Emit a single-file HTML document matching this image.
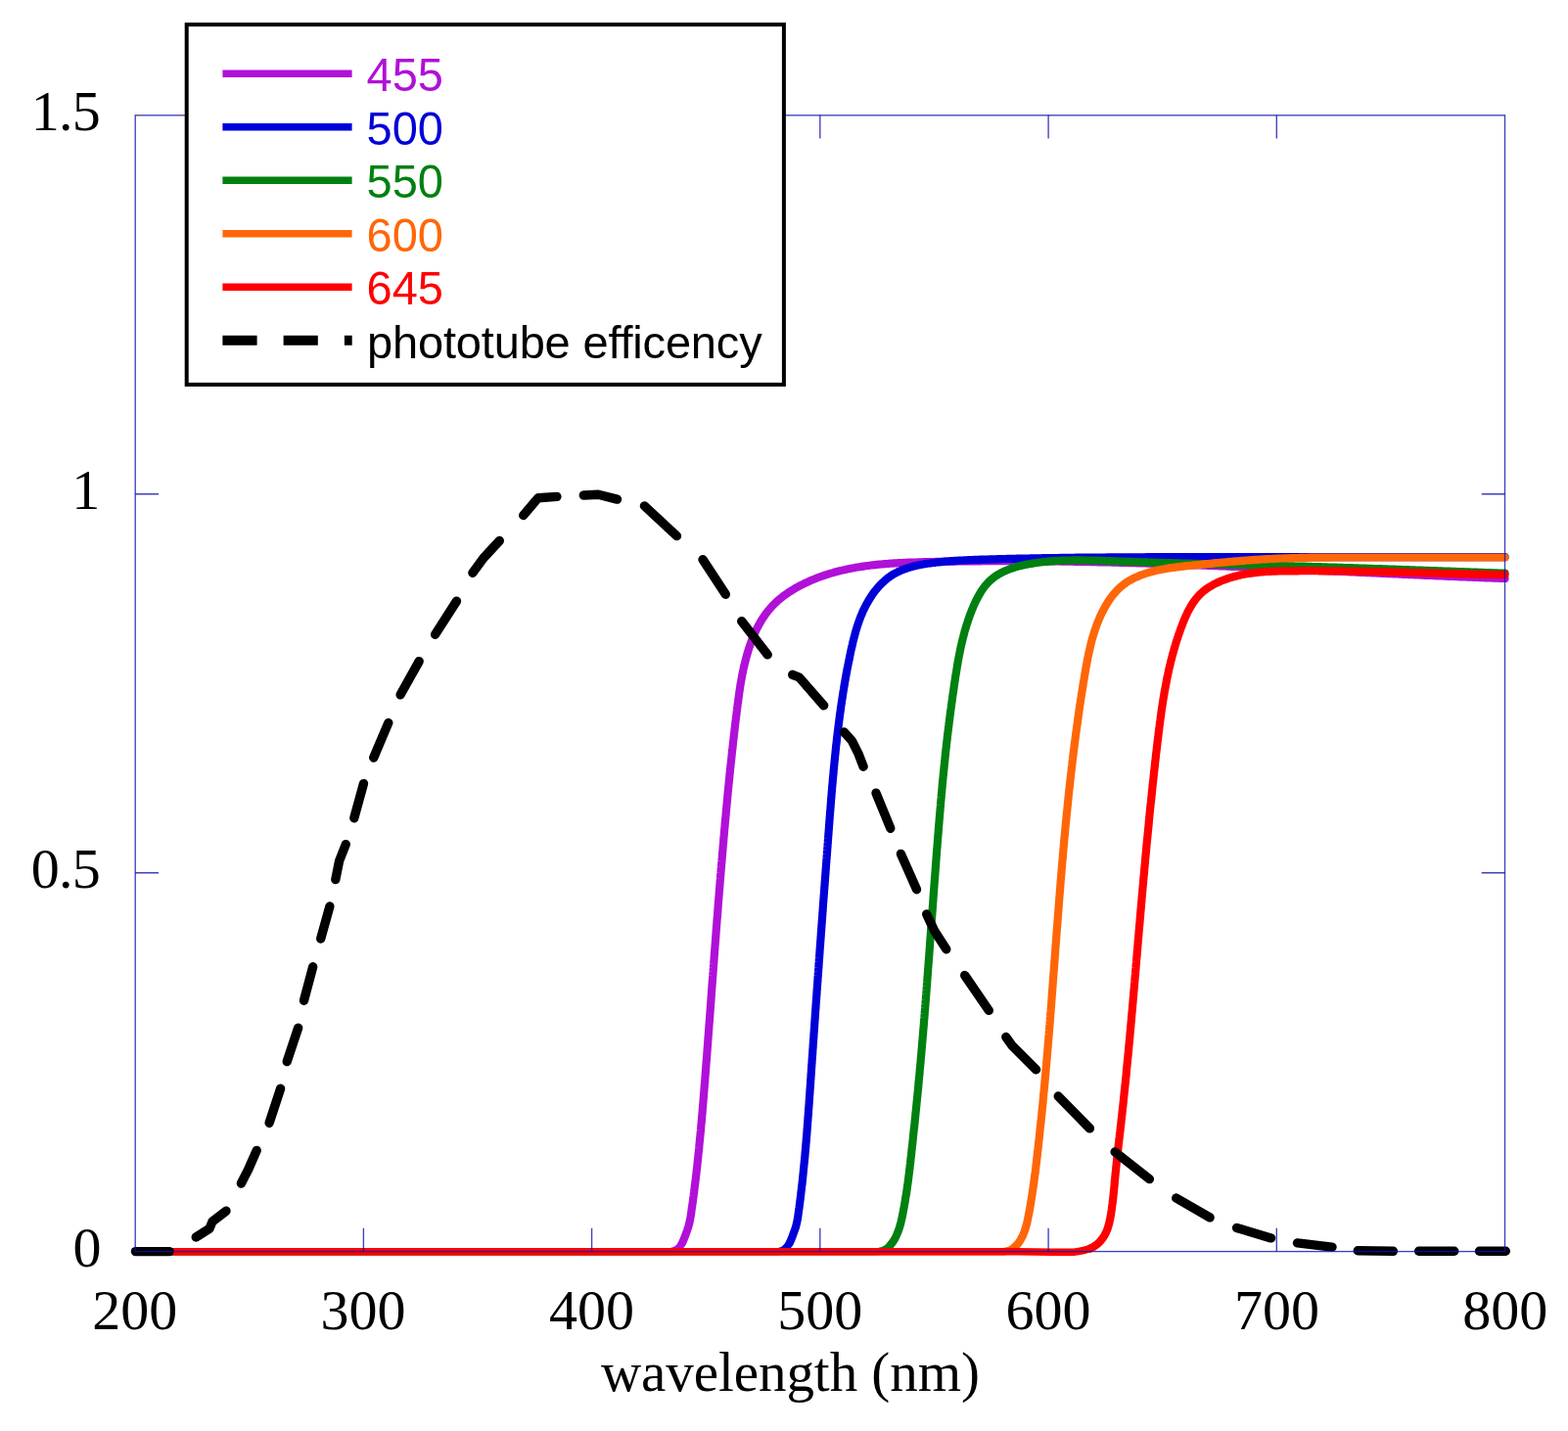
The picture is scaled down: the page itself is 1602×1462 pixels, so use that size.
<!DOCTYPE html>
<html lang="en"><head><meta charset="utf-8"><title>Filter transmission and phototube efficiency</title>
<style>
html,body{margin:0;padding:0;background:#fff;}
body{width:1602px;height:1462px;overflow:hidden;}
svg{display:block;}
.tick{font-family:"Liberation Serif","DejaVu Serif",serif;font-size:58px;fill:#000;}
.leg{font-family:"Liberation Sans","DejaVu Sans",sans-serif;font-size:47px;}
.c{fill:none;stroke-linecap:round;stroke-linejoin:round;}
.d{fill:none;stroke:#000;stroke-width:9.4;stroke-linecap:round;stroke-linejoin:round;}
.ax{fill:none;stroke:#1010aa;stroke-width:1.35;stroke-opacity:0.8;}
</style></head><body>
<svg width="1602" height="1462" viewBox="0 0 1602 1462">
<rect x="0" y="0" width="1602" height="1462" fill="#fff"/>

<g id="traces">
<path class="c" stroke-width="7.6" stroke="#B010D8" d="M138.5 1278.7 L684.0 1278.7 L686.2 1278.5 L688.2 1278.0 L690.0 1277.2 L691.7 1276.2 L693.2 1275.0 L694.5 1273.7 L695.6 1272.1 L696.7 1270.5"/>
<path class="c" stroke-width="8.2" stroke="#B010D8" d="M696.7 1270.5 L697.6 1268.7 L698.4 1266.9 L699.1 1265.0 L699.9 1263.1 L700.6 1261.2 L701.3 1259.2 L702.0 1257.3 L702.6 1255.4 L703.3 1253.4 L703.8 1251.5 L704.3 1249.6 L704.7 1247.6 L705.1 1245.6 L705.5 1243.7 L705.8 1241.7 L706.1 1239.7 L706.4 1237.8 L706.6 1235.8 L706.9 1233.8 L707.2 1231.9 L707.5 1229.9 L707.8 1227.9 L708.0 1225.9 L708.3 1224.0 L708.6 1222.0 L708.8 1220.0 L709.1 1218.0 L709.3 1216.0 L709.6 1214.1 L709.8 1212.1 L710.1 1210.1 L710.3 1208.1 L710.6 1206.1 L710.8 1204.1 L711.0 1202.2 L711.3 1200.2 L711.5 1198.2 L711.7 1196.2 L711.9 1194.2 L712.2 1192.2 L712.4 1190.2 L712.6 1188.2 L712.8 1186.2 L713.0 1184.3 L713.2 1182.3 L713.4 1180.3 L713.6 1178.3 L713.9 1176.3 L714.1 1174.3 L714.3 1172.3 L714.4 1170.3 L714.6 1168.3 L714.8 1166.3 L715.0 1164.3 L715.2 1162.3 L715.4 1160.3 L715.6 1158.3 L715.8 1156.3 L716.0 1154.3 L716.1 1152.3 L716.3 1150.3 L716.5 1148.4 L716.7 1146.4 L716.9 1144.4 L717.0 1142.4 L717.2 1140.4 L717.4 1138.4 L717.6 1136.4 L717.7 1134.4 L717.9 1132.4 L718.1 1130.4 L718.2 1128.4 L718.4 1126.4 L718.6 1124.4 L718.7 1122.4 L718.9 1120.4 L719.0 1118.4 L719.2 1116.4 L719.4 1114.4 L719.5 1112.4 L719.7 1110.4 L719.8 1108.4 L720.0 1106.4 L720.2 1104.4 L720.3 1102.4 L720.5 1100.4 L720.6 1098.4 L720.8 1096.4 L720.9 1094.4 L721.1 1092.4 L721.2 1090.4 L721.4 1088.4 L721.5 1086.4 L721.7 1084.4 L721.9 1082.4 L722.0 1080.4 L722.2 1078.4 L722.3 1076.4 L722.5 1074.5 L722.6 1072.5 L722.8 1070.5 L722.9 1068.5 L723.1 1066.5 L723.2 1064.5 L723.4 1062.5 L723.5 1060.5 L723.7 1058.5 L723.8 1056.5 L724.0 1054.5 L724.1 1052.5 L724.3 1050.5 L724.4 1048.5 L724.6 1046.5 L724.7 1044.6 L724.9 1042.6 L725.0 1040.6 L725.2 1038.6 L725.3 1036.6 L725.5 1034.6 L725.6 1032.6 L725.8 1030.6 L725.9 1028.6 L726.1 1026.6 L726.2 1024.6 L726.4 1022.7 L726.5 1020.7 L726.7 1018.7 L726.8 1016.7 L726.9 1014.7 L727.1 1012.7 L727.2 1010.7 L727.4 1008.7 L727.5 1006.7 L727.7 1004.7 L727.8 1002.7 L728.0 1000.8 L728.1 998.8 L728.3 996.8 L728.4 994.8 L728.6 992.8 L728.7 990.8 L728.9 988.8 L729.0 986.8 L729.2 984.8 L729.3 982.9 L729.5 980.9 L729.6 978.9 L729.8 976.9 L729.9 974.9 L730.1 972.9 L730.2 970.9 L730.4 968.9 L730.5 966.9 L730.7 964.9 L730.8 963.0 L731.0 961.0 L731.1 959.0 L731.3 957.0 L731.4 955.0 L731.6 953.0 L731.7 951.0 L731.9 949.0 L732.0 947.0 L732.2 945.1 L732.3 943.1 L732.5 941.1 L732.6 939.1 L732.8 937.1 L733.0 935.1 L733.1 933.1 L733.3 931.1 L733.4 929.1 L733.6 927.1 L733.7 925.2 L733.9 923.2 L734.0 921.2 L734.2 919.2 L734.4 917.2 L734.5 915.2 L734.7 913.2 L734.8 911.2 L735.0 909.2 L735.2 907.2 L735.3 905.2 L735.5 903.3 L735.6 901.3 L735.8 899.3 L736.0 897.3 L736.1 895.3 L736.3 893.3 L736.5 891.3 L736.6 889.3 L736.8 887.3 L737.0 885.3 L737.1 883.3 L737.3 881.3 L737.5 879.3 L737.6 877.4 L737.8 875.4 L738.0 873.4 L738.1 871.4 L738.3 869.4 L738.5 867.4 L738.6 865.4 L738.8 863.4 L739.0 861.4 L739.2 859.4 L739.3 857.4 L739.5 855.4 L739.7 853.4 L739.9 851.4 L740.0 849.4 L740.2 847.4 L740.4 845.4 L740.6 843.4 L740.7 841.5 L740.9 839.5 L741.1 837.5 L741.3 835.5 L741.5 833.5 L741.7 831.5 L741.8 829.5 L742.0 827.5 L742.2 825.5 L742.4 823.5 L742.6 821.5 L742.8 819.5 L743.0 817.5 L743.2 815.5 L743.3 813.5 L743.5 811.5 L743.7 809.5 L743.9 807.5 L744.1 805.5 L744.3 803.5 L744.5 801.5 L744.7 799.5 L744.9 797.5 L745.1 795.5 L745.3 793.5 L745.5 791.5 L745.7 789.5 L745.9 787.6 L746.1 785.6 L746.3 783.6 L746.5 781.6 L746.8 779.6 L747.0 777.6 L747.2 775.6 L747.4 773.6 L747.6 771.6 L747.8 769.6 L748.0 767.6 L748.3 765.6 L748.5 763.7 L748.7 761.7 L748.9 759.7 L749.1 757.7 L749.4 755.7 L749.6 753.7 L749.8 751.7 L750.0 749.8 L750.3 747.8 L750.5 745.8 L750.7 743.8 L751.0 741.8 L751.2 739.8 L751.4 737.9 L751.7 735.9 L751.9 733.9 L752.2 731.9 L752.4 730.0 L752.6 728.0 L752.9 726.0 L753.1 724.0 L753.4 722.1 L753.6 720.1 L753.9 718.1 L754.2 716.1 L754.4 714.2 L754.7 712.2 L755.0 710.2 L755.2 708.3 L755.5 706.3 L755.8 704.3 L756.1 702.4 L756.4 700.4 L756.7 698.4 L757.1 696.5 L757.4 694.5 L757.8 692.6 L758.1 690.6 L758.5 688.7 L758.9 686.7 L759.3 684.7 L759.7 682.8 L760.2 680.8 L760.6 678.9 L761.1 676.9 L761.6 675.0 L762.1 673.0 L762.6 671.1 L763.1 669.2 L763.7 667.2 L764.3 665.3 L764.9 663.3 L765.5 661.4 L766.2 659.5 L766.8 657.6 L767.5 655.7 L768.2 653.8 L769.0 651.9 L769.7 650.0 L770.5 648.2 L771.4 646.3 L772.2 644.5 L773.1 642.7 L774.0 640.9 L774.9 639.1 L775.9 637.4 L776.9 635.6 L777.9 633.9 L778.9 632.2 L780.0 630.6 L781.2 628.9 L782.3 627.3 L783.5 625.7 L784.7 624.1 L786.0 622.6 L787.3 621.1 L788.6 619.6 L790.0 618.2 L791.4 616.8 L792.8 615.4 L794.3 614.0 L795.8 612.7 L797.4 611.4 L798.9 610.2 L800.5 608.9 L802.1 607.7 L803.8 606.6 L805.5 605.4 L807.2 604.3 L808.9 603.2 L810.6 602.2 L812.4 601.1 L814.1 600.1 L815.9 599.2 L817.7 598.2 L819.5 597.3 L821.3 596.4 L823.1 595.5 L825.0 594.7 L826.8 593.8 L828.6 593.0 L830.5 592.2 L832.3 591.5 L834.2 590.7 L836.1 590.0 L837.9 589.3 L839.8 588.7 L841.7 588.0 L843.6 587.4 L845.4 586.8 L847.3 586.2 L849.2 585.6 L851.1 585.1 L853.0 584.5 L854.9 584.0 L856.9 583.5 L858.8 583.1 L860.7 582.6 L862.6 582.2 L864.6 581.7 L866.5 581.3 L868.4 580.9 L870.4 580.5 L872.3 580.2 L874.3 579.8 L876.2 579.5 L878.2 579.2 L880.1 578.9 L882.1 578.6 L884.1 578.3 L886.0 578.0 L888.0 577.8 L890.0 577.5 L891.9 577.3 L893.9 577.1 L895.9 576.9 L897.9 576.7 L899.9 576.5 L901.9 576.3 L903.8 576.1 L905.8 576.0 L907.8 575.8 L909.8 575.7 L911.8 575.6 L913.8 575.4 L915.8 575.3 L917.8 575.2 L919.8 575.1 L921.8 575.0 L923.8 574.9 L925.8 574.8 L927.8 574.7 L929.8 574.7 L931.8 574.6 L933.8 574.5 L935.9 574.5 L937.9 574.4 L939.9 574.3 L941.9 574.3 L943.9 574.2 L945.9 574.2 L947.9 574.1 L949.9 574.1 L951.9 574.0 L953.9 574.0 L955.9 573.9 L958.0 573.9 L960.0 573.8 L962.0 573.8 L964.0 573.8 L966.0 573.7 L968.0 573.7 L970.0 573.7 L972.0 573.6 L974.0 573.6 L976.0 573.6 L978.0 573.5 L980.0 573.5 L982.0 573.5 L984.0 573.4 L986.0 573.4 L988.1 573.4 L990.1 573.4 L992.1 573.3 L994.1 573.3 L996.1 573.3 L998.1 573.3 L1000.1 573.3 L1002.1 573.3 L1004.1 573.2 L1006.1 573.2 L1008.1 573.2 L1010.1 573.2 L1012.1 573.2 L1014.1 573.2 L1016.1 573.2 L1018.1 573.2 L1020.1 573.2 L1022.1 573.2 L1024.1 573.2 L1026.1 573.2 L1028.1 573.2 L1030.1 573.2 L1032.2 573.2 L1034.2 573.2 L1036.2 573.2 L1038.2 573.2 L1040.2 573.2 L1042.2 573.2 L1044.2 573.2 L1046.2 573.2 L1048.2 573.2 L1050.2 573.2 L1052.2 573.2 L1054.2 573.2 L1056.2 573.3 L1058.2 573.3 L1060.2 573.3 L1062.2 573.3 L1064.2 573.3 L1066.2 573.3 L1068.2 573.4 L1070.2 573.4 L1072.2 573.4 L1074.2 573.4 L1076.2 573.5 L1078.2 573.5 L1080.2 573.5 L1082.2 573.5 L1084.2 573.6 L1086.2 573.6 L1088.2 573.6 L1090.2 573.6 L1092.2 573.7 L1094.2 573.7 L1096.2 573.7 L1098.2 573.8 L1100.2 573.8 L1102.2 573.9 L1104.2 573.9 L1106.2 573.9 L1108.2 574.0 L1110.2 574.0 L1112.2 574.0 L1114.2 574.1 L1116.2 574.1 L1118.2 574.2 L1120.2 574.2 L1122.2 574.3 L1124.2 574.3 L1126.2 574.3 L1128.2 574.4 L1130.2 574.4 L1132.2 574.5 L1134.2 574.5 L1136.2 574.6 L1138.2 574.6 L1140.2 574.7 L1142.2 574.7 L1144.2 574.8 L1146.2 574.8 L1148.2 574.9 L1150.2 575.0 L1152.2 575.0 L1154.2 575.1 L1156.2 575.1 L1158.2 575.2 L1160.2 575.2 L1162.2 575.3 L1164.2 575.4 L1166.2 575.4 L1168.2 575.5 L1170.1 575.5 L1172.1 575.6 L1174.1 575.7 L1176.1 575.7 L1178.1 575.8 L1180.1 575.9 L1182.1 575.9 L1184.1 576.0 L1186.1 576.1 L1188.1 576.1 L1190.1 576.2 L1192.1 576.3 L1194.1 576.3 L1196.1 576.4 L1198.1 576.5 L1200.1 576.5 L1202.1 576.6 L1204.1 576.7 L1206.1 576.7 L1208.1 576.8 L1210.1 576.9 L1212.1 577.0 L1214.1 577.0 L1216.1 577.1 L1218.1 577.2 L1220.1 577.3 L1222.1 577.3 L1224.1 577.4 L1226.1 577.5 L1228.1 577.6 L1230.0 577.7 L1232.0 577.7 L1234.0 577.8 L1236.0 577.9 L1238.0 578.0 L1240.0 578.0 L1242.0 578.1 L1244.0 578.2 L1246.0 578.3 L1248.0 578.4 L1250.0 578.5 L1252.0 578.5 L1254.0 578.6 L1256.0 578.7 L1258.0 578.8 L1260.0 578.9 L1262.0 579.0 L1264.0 579.0 L1266.0 579.1 L1268.0 579.2 L1270.0 579.3 L1272.0 579.4 L1274.0 579.5 L1276.0 579.6 L1278.0 579.6 L1279.9 579.7 L1281.9 579.8 L1283.9 579.9 L1285.9 580.0 L1287.9 580.1 L1289.9 580.2 L1291.9 580.3 L1293.9 580.3 L1295.9 580.4 L1297.9 580.5 L1299.9 580.6 L1301.9 580.7 L1303.9 580.8 L1305.9 580.9 L1307.9 581.0 L1309.9 581.1 L1311.9 581.2 L1313.9 581.2 L1315.9 581.3 L1317.9 581.4 L1319.9 581.5 L1321.9 581.6 L1323.9 581.7 L1325.9 581.8 L1327.8 581.9 L1329.8 582.0 L1331.8 582.1 L1333.8 582.2 L1335.8 582.3 L1337.8 582.4 L1339.8 582.4 L1341.8 582.5 L1343.8 582.6 L1345.8 582.7 L1347.8 582.8 L1349.8 582.9 L1351.8 583.0 L1353.8 583.1 L1355.8 583.2 L1357.8 583.3 L1359.8 583.4 L1361.8 583.5 L1363.8 583.6 L1365.8 583.7 L1367.8 583.7 L1369.8 583.8 L1371.8 583.9 L1373.8 584.0 L1375.8 584.1 L1377.8 584.2 L1379.8 584.3 L1381.8 584.4 L1383.7 584.5 L1385.7 584.6 L1387.7 584.7 L1389.7 584.8 L1391.7 584.9 L1393.7 585.0 L1395.7 585.1 L1397.7 585.1 L1399.7 585.2 L1401.7 585.3 L1403.7 585.4 L1405.7 585.5 L1407.7 585.6 L1409.7 585.7 L1411.7 585.8 L1413.7 585.9 L1415.7 586.0 L1417.7 586.1 L1419.7 586.2 L1421.7 586.2 L1423.7 586.3 L1425.7 586.4 L1427.7 586.5 L1429.7 586.6 L1431.7 586.7 L1433.7 586.8 L1435.7 586.9 L1437.7 587.0 L1439.7 587.1 L1441.7 587.1 L1443.7 587.2 L1445.7 587.3 L1447.7 587.4 L1449.7 587.5 L1451.7 587.6 L1453.7 587.7 L1455.7 587.8 L1457.7 587.8 L1459.7 587.9 L1461.7 588.0 L1463.7 588.1 L1465.7 588.2 L1467.7 588.3 L1469.7 588.4 L1471.7 588.4 L1473.7 588.5 L1475.7 588.6 L1477.7 588.7 L1479.7 588.8 L1481.7 588.9 L1483.7 588.9 L1485.7 589.0 L1487.7 589.1 L1489.7 589.2 L1491.7 589.3 L1493.7 589.4 L1495.7 589.4 L1497.7 589.5 L1499.7 589.6 L1501.7 589.7 L1503.7 589.7 L1505.7 589.8 L1507.7 589.9 L1509.7 590.0 L1511.7 590.1 L1513.7 590.1 L1515.7 590.2 L1517.7 590.3 L1519.7 590.4 L1521.7 590.4 L1523.7 590.5 L1525.7 590.6 L1527.7 590.7 L1529.7 590.7 L1531.7 590.8 L1533.7 590.9 L1535.7 590.9 L1537.5 591.0"/>
<path class="c" stroke-width="7.6" stroke="#0000D8" d="M138.5 1278.7 L794.0 1278.7 L796.2 1278.4 L798.2 1277.9 L800.0 1277.1 L801.6 1276.1 L803.0 1274.8 L804.3 1273.4 L805.5 1271.9 L806.5 1270.3"/>
<path class="c" stroke-width="8.2" stroke="#0000D8" d="M806.5 1270.3 L807.4 1268.5 L808.2 1266.7 L809.0 1264.8 L809.7 1262.9 L810.4 1261.0 L811.1 1259.0 L811.8 1257.1 L812.5 1255.2 L813.1 1253.2 L813.6 1251.3 L814.1 1249.3 L814.5 1247.3 L814.9 1245.4 L815.2 1243.4 L815.5 1241.4 L815.7 1239.5 L816.0 1237.5 L816.3 1235.5 L816.6 1233.5 L816.8 1231.6 L817.1 1229.6 L817.3 1227.6 L817.6 1225.6 L817.8 1223.6 L818.1 1221.7 L818.3 1219.7 L818.5 1217.7 L818.8 1215.7 L819.0 1213.7 L819.2 1211.7 L819.5 1209.8 L819.7 1207.8 L819.9 1205.8 L820.1 1203.8 L820.3 1201.8 L820.5 1199.8 L820.7 1197.8 L820.9 1195.8 L821.1 1193.9 L821.3 1191.9 L821.5 1189.9 L821.7 1187.9 L821.9 1185.9 L822.1 1183.9 L822.3 1181.9 L822.5 1179.9 L822.6 1177.9 L822.8 1175.9 L823.0 1173.9 L823.2 1171.9 L823.3 1169.9 L823.5 1168.0 L823.7 1166.0 L823.8 1164.0 L824.0 1162.0 L824.2 1160.0 L824.3 1158.0 L824.5 1156.0 L824.6 1154.0 L824.8 1152.0 L824.9 1150.0 L825.1 1148.0 L825.2 1146.0 L825.4 1144.0 L825.5 1142.0 L825.7 1140.0 L825.8 1138.0 L826.0 1136.0 L826.1 1134.0 L826.3 1132.0 L826.4 1130.0 L826.6 1128.0 L826.7 1126.0 L826.8 1124.0 L827.0 1122.0 L827.1 1120.0 L827.3 1118.0 L827.4 1116.0 L827.5 1114.0 L827.7 1112.0 L827.8 1110.0 L828.0 1108.0 L828.1 1106.0 L828.2 1104.0 L828.4 1102.0 L828.5 1100.0 L828.6 1098.0 L828.8 1096.0 L828.9 1094.0 L829.0 1092.0 L829.2 1090.0 L829.3 1088.0 L829.5 1086.0 L829.6 1084.0 L829.7 1082.0 L829.9 1080.0 L830.0 1078.0 L830.2 1076.0 L830.3 1074.0 L830.4 1072.1 L830.6 1070.1 L830.7 1068.1 L830.8 1066.1 L831.0 1064.1 L831.1 1062.1 L831.3 1060.1 L831.4 1058.1 L831.5 1056.1 L831.7 1054.1 L831.8 1052.1 L832.0 1050.1 L832.1 1048.1 L832.2 1046.1 L832.4 1044.1 L832.5 1042.1 L832.7 1040.1 L832.8 1038.1 L832.9 1036.1 L833.1 1034.1 L833.2 1032.2 L833.4 1030.2 L833.5 1028.2 L833.6 1026.2 L833.8 1024.2 L833.9 1022.2 L834.1 1020.2 L834.2 1018.2 L834.4 1016.2 L834.5 1014.2 L834.6 1012.2 L834.8 1010.2 L834.9 1008.2 L835.1 1006.2 L835.2 1004.2 L835.4 1002.3 L835.5 1000.3 L835.6 998.3 L835.8 996.3 L835.9 994.3 L836.1 992.3 L836.2 990.3 L836.4 988.3 L836.5 986.3 L836.6 984.3 L836.8 982.3 L836.9 980.3 L837.1 978.3 L837.2 976.4 L837.4 974.4 L837.5 972.4 L837.6 970.4 L837.8 968.4 L837.9 966.4 L838.1 964.4 L838.2 962.4 L838.4 960.4 L838.5 958.4 L838.7 956.4 L838.8 954.4 L838.9 952.5 L839.1 950.5 L839.2 948.5 L839.4 946.5 L839.5 944.5 L839.7 942.5 L839.8 940.5 L840.0 938.5 L840.1 936.5 L840.3 934.5 L840.4 932.5 L840.6 930.5 L840.7 928.6 L840.8 926.6 L841.0 924.6 L841.1 922.6 L841.3 920.6 L841.4 918.6 L841.6 916.6 L841.7 914.6 L841.9 912.6 L842.0 910.6 L842.2 908.6 L842.3 906.6 L842.5 904.7 L842.6 902.7 L842.8 900.7 L842.9 898.7 L843.1 896.7 L843.2 894.7 L843.4 892.7 L843.5 890.7 L843.7 888.7 L843.8 886.7 L844.0 884.7 L844.1 882.7 L844.3 880.7 L844.4 878.8 L844.6 876.8 L844.7 874.8 L844.9 872.8 L845.0 870.8 L845.2 868.8 L845.3 866.8 L845.5 864.8 L845.6 862.8 L845.8 860.8 L845.9 858.8 L846.1 856.8 L846.2 854.8 L846.4 852.9 L846.5 850.9 L846.7 848.9 L846.8 846.9 L847.0 844.9 L847.1 842.9 L847.3 840.9 L847.4 838.9 L847.6 836.9 L847.7 834.9 L847.9 832.9 L848.0 830.9 L848.2 828.9 L848.4 826.9 L848.5 824.9 L848.7 822.9 L848.8 821.0 L849.0 819.0 L849.1 817.0 L849.3 815.0 L849.5 813.0 L849.6 811.0 L849.8 809.0 L850.0 807.0 L850.1 805.0 L850.3 803.0 L850.5 801.0 L850.7 799.0 L850.8 797.0 L851.0 795.0 L851.2 793.0 L851.4 791.1 L851.6 789.1 L851.7 787.1 L851.9 785.1 L852.1 783.1 L852.3 781.1 L852.5 779.1 L852.7 777.1 L852.9 775.1 L853.1 773.1 L853.3 771.1 L853.5 769.2 L853.7 767.2 L853.9 765.2 L854.1 763.2 L854.3 761.2 L854.6 759.2 L854.8 757.2 L855.0 755.2 L855.2 753.2 L855.5 751.3 L855.7 749.3 L855.9 747.3 L856.2 745.3 L856.4 743.3 L856.7 741.3 L856.9 739.3 L857.2 737.4 L857.4 735.4 L857.7 733.4 L857.9 731.4 L858.2 729.4 L858.5 727.4 L858.8 725.5 L859.0 723.5 L859.3 721.5 L859.6 719.5 L859.9 717.5 L860.2 715.6 L860.5 713.6 L860.8 711.6 L861.1 709.6 L861.4 707.6 L861.7 705.7 L862.1 703.7 L862.4 701.7 L862.7 699.7 L863.0 697.8 L863.4 695.8 L863.7 693.8 L864.1 691.8 L864.4 689.9 L864.8 687.9 L865.2 685.9 L865.5 683.9 L865.9 682.0 L866.3 680.0 L866.7 678.0 L867.1 676.1 L867.5 674.1 L867.9 672.1 L868.3 670.2 L868.7 668.2 L869.1 666.2 L869.5 664.3 L870.0 662.3 L870.4 660.4 L870.9 658.4 L871.3 656.4 L871.8 654.5 L872.3 652.5 L872.8 650.6 L873.3 648.7 L873.8 646.7 L874.4 644.8 L874.9 642.9 L875.5 641.0 L876.1 639.1 L876.8 637.2 L877.4 635.3 L878.1 633.4 L878.8 631.6 L879.5 629.7 L880.3 627.9 L881.0 626.1 L881.8 624.2 L882.7 622.4 L883.6 620.6 L884.5 618.9 L885.4 617.1 L886.4 615.4 L887.4 613.6 L888.4 611.9 L889.5 610.2 L890.6 608.5 L891.7 606.9 L892.9 605.2 L894.1 603.6 L895.4 602.1 L896.7 600.5 L898.0 599.0 L899.4 597.5 L900.8 596.1 L902.3 594.7 L903.7 593.4 L905.2 592.1 L906.8 590.8 L908.4 589.6 L910.0 588.5 L911.6 587.4 L913.3 586.4 L915.0 585.5 L916.8 584.6 L918.5 583.7 L920.3 582.9 L922.2 582.2 L924.0 581.5 L925.9 580.8 L927.8 580.2 L929.7 579.6 L931.6 579.0 L933.5 578.5 L935.5 578.1 L937.4 577.6 L939.4 577.2 L941.4 576.8 L943.4 576.5 L945.4 576.1 L947.4 575.8 L949.4 575.5 L951.4 575.3 L953.4 575.0 L955.5 574.8 L957.5 574.5 L959.5 574.3 L961.5 574.1 L963.5 573.9 L965.5 573.7 L967.5 573.5 L969.5 573.4 L971.5 573.2 L973.5 573.1 L975.5 572.9 L977.5 572.8 L979.5 572.7 L981.5 572.6 L983.5 572.5 L985.5 572.3 L987.5 572.3 L989.5 572.2 L991.5 572.1 L993.5 572.0 L995.5 571.9 L997.5 571.8 L999.5 571.8 L1001.5 571.7 L1003.5 571.6 L1005.5 571.6 L1007.5 571.5 L1009.5 571.5 L1011.5 571.4 L1013.5 571.4 L1015.5 571.3 L1017.5 571.3 L1019.5 571.2 L1021.5 571.1 L1023.5 571.1 L1025.5 571.0 L1027.4 571.0 L1029.4 570.9 L1031.4 570.9 L1033.4 570.9 L1035.4 570.8 L1037.4 570.8 L1039.4 570.7 L1041.4 570.7 L1043.4 570.6 L1045.4 570.6 L1047.4 570.6 L1049.4 570.5 L1051.4 570.5 L1053.4 570.4 L1055.4 570.4 L1057.4 570.4 L1059.4 570.3 L1061.4 570.3 L1063.4 570.3 L1065.4 570.2 L1067.4 570.2 L1069.4 570.1 L1071.4 570.1 L1073.4 570.1 L1075.4 570.1 L1077.4 570.0 L1079.4 570.0 L1081.4 570.0 L1083.3 569.9 L1085.3 569.9 L1087.3 569.9 L1089.3 569.9 L1091.3 569.8 L1093.3 569.8 L1095.3 569.8 L1097.3 569.8 L1099.3 569.7 L1101.3 569.7 L1103.3 569.7 L1105.3 569.7 L1107.3 569.6 L1109.3 569.6 L1111.3 569.6 L1113.3 569.6 L1115.3 569.6 L1117.3 569.6 L1119.3 569.5 L1121.3 569.5 L1123.3 569.5 L1125.3 569.5 L1127.3 569.5 L1129.3 569.5 L1131.3 569.4 L1133.3 569.4 L1135.3 569.4 L1137.3 569.4 L1139.3 569.4 L1141.3 569.4 L1143.3 569.4 L1145.3 569.4 L1147.3 569.3 L1149.3 569.3 L1151.3 569.3 L1153.3 569.3 L1155.3 569.3 L1157.3 569.3 L1159.3 569.3 L1161.3 569.3 L1163.3 569.3 L1165.3 569.3 L1167.3 569.3 L1169.3 569.3 L1171.3 569.2 L1173.3 569.2 L1175.3 569.2 L1177.3 569.2 L1179.3 569.2 L1181.3 569.2 L1183.3 569.2 L1185.3 569.2 L1187.3 569.2 L1189.3 569.2 L1191.3 569.2 L1193.3 569.2 L1195.3 569.2 L1197.3 569.2 L1199.3 569.2 L1201.3 569.2 L1203.3 569.2 L1205.3 569.2 L1207.3 569.2 L1209.3 569.2 L1211.3 569.2 L1213.3 569.2 L1215.3 569.2 L1217.3 569.2 L1219.3 569.2 L1221.3 569.2 L1223.3 569.2 L1225.3 569.2 L1227.3 569.2 L1229.3 569.2 L1231.3 569.2 L1233.3 569.2 L1235.3 569.2 L1237.3 569.2 L1239.3 569.2 L1241.3 569.2 L1243.3 569.2 L1245.3 569.2 L1247.3 569.2 L1249.3 569.2 L1251.3 569.2 L1253.3 569.2 L1255.3 569.2 L1257.3 569.2 L1259.3 569.2 L1261.3 569.2 L1263.3 569.2 L1265.3 569.2 L1267.3 569.2 L1269.3 569.2 L1271.3 569.2 L1273.3 569.2 L1275.3 569.2 L1277.3 569.2 L1279.3 569.2 L1281.3 569.2 L1283.3 569.2 L1285.3 569.2 L1287.3 569.2 L1289.3 569.2 L1291.3 569.2 L1293.3 569.2 L1295.3 569.2 L1297.3 569.2 L1299.3 569.2 L1301.3 569.2 L1303.3 569.2 L1305.3 569.2 L1307.3 569.2 L1309.3 569.2 L1311.3 569.2 L1313.3 569.2 L1315.3 569.2 L1317.3 569.2 L1319.3 569.2 L1321.3 569.2 L1323.3 569.2 L1325.3 569.2 L1327.3 569.2 L1329.3 569.2 L1331.3 569.2 L1333.3 569.2 L1335.3 569.2 L1337.3 569.2 L1339.3 569.2 L1341.3 569.2 L1343.3 569.2 L1345.4 569.2 L1347.4 569.2 L1349.4 569.2 L1351.4 569.2 L1353.4 569.2 L1355.4 569.2 L1357.4 569.2 L1359.4 569.2 L1361.4 569.2 L1363.4 569.2 L1365.4 569.2 L1367.4 569.2 L1369.4 569.2 L1371.4 569.2 L1373.4 569.2 L1375.4 569.2 L1377.4 569.2 L1379.4 569.2 L1381.4 569.2 L1383.4 569.2 L1385.4 569.2 L1387.4 569.2 L1389.4 569.2 L1391.4 569.2 L1393.4 569.2 L1395.4 569.2 L1397.4 569.2 L1399.4 569.2 L1401.4 569.2 L1403.4 569.2 L1405.4 569.2 L1407.4 569.2 L1409.4 569.2 L1411.4 569.2 L1413.4 569.2 L1415.4 569.2 L1417.4 569.2 L1419.4 569.2 L1421.4 569.2 L1423.4 569.2 L1425.4 569.2 L1427.4 569.2 L1429.4 569.2 L1431.4 569.2 L1433.4 569.2 L1435.4 569.2 L1437.4 569.2 L1439.4 569.2 L1441.4 569.2 L1443.4 569.2 L1445.4 569.2 L1447.4 569.2 L1449.4 569.2 L1451.4 569.2 L1453.4 569.2 L1455.4 569.2 L1457.4 569.2 L1459.4 569.2 L1461.4 569.2 L1463.4 569.2 L1465.4 569.2 L1467.4 569.2 L1469.4 569.2 L1471.4 569.2 L1473.4 569.2 L1475.4 569.2 L1477.4 569.2 L1479.4 569.2 L1481.4 569.2 L1483.4 569.2 L1485.4 569.2 L1487.4 569.2 L1489.4 569.2 L1491.4 569.2 L1493.4 569.2 L1495.4 569.2 L1497.4 569.2 L1499.4 569.2 L1501.4 569.2 L1503.4 569.2 L1505.4 569.2 L1507.4 569.2 L1509.4 569.2 L1511.4 569.2 L1513.4 569.2 L1515.4 569.2 L1517.4 569.2 L1519.4 569.2 L1521.4 569.2 L1523.4 569.2 L1525.3 569.2 L1527.3 569.2 L1529.3 569.2 L1531.3 569.2 L1533.3 569.2 L1535.3 569.2 L1537.3 569.2 L1537.5 569.2"/>
<path class="c" stroke-width="7.6" stroke="#008010" d="M138.5 1278.7 L896.0 1278.7 L898.2 1278.5 L900.2 1278.1 L902.1 1277.5 L903.9 1276.6 L905.5 1275.7 L907.1 1274.5 L908.5 1273.2 L909.9 1271.8"/>
<path class="c" stroke-width="8.2" stroke="#008010" d="M909.9 1271.8 L911.1 1270.3 L912.3 1268.7 L913.4 1267.0 L914.4 1265.3 L915.3 1263.5 L916.2 1261.6 L916.9 1259.8 L917.7 1257.9 L918.3 1256.0 L919.0 1254.1 L919.5 1252.2 L920.1 1250.2 L920.6 1248.3 L921.0 1246.3 L921.5 1244.4 L921.9 1242.4 L922.3 1240.4 L922.7 1238.4 L923.0 1236.5 L923.4 1234.5 L923.8 1232.5 L924.1 1230.5 L924.5 1228.6 L924.8 1226.6 L925.1 1224.6 L925.4 1222.6 L925.8 1220.7 L926.1 1218.7 L926.4 1216.7 L926.7 1214.7 L926.9 1212.7 L927.2 1210.8 L927.5 1208.8 L927.8 1206.8 L928.0 1204.8 L928.3 1202.9 L928.5 1200.9 L928.8 1198.9 L929.0 1196.9 L929.3 1194.9 L929.5 1193.0 L929.7 1191.0 L930.0 1189.0 L930.2 1187.0 L930.4 1185.0 L930.6 1183.0 L930.9 1181.1 L931.1 1179.1 L931.3 1177.1 L931.5 1175.1 L931.7 1173.1 L931.9 1171.1 L932.2 1169.2 L932.4 1167.2 L932.6 1165.2 L932.8 1163.2 L933.0 1161.2 L933.2 1159.2 L933.4 1157.2 L933.6 1155.3 L933.8 1153.3 L934.1 1151.3 L934.3 1149.3 L934.5 1147.3 L934.7 1145.3 L934.9 1143.3 L935.1 1141.4 L935.3 1139.4 L935.5 1137.4 L935.7 1135.4 L935.9 1133.4 L936.1 1131.4 L936.3 1129.4 L936.5 1127.4 L936.7 1125.4 L936.9 1123.5 L937.1 1121.5 L937.3 1119.5 L937.5 1117.5 L937.7 1115.5 L937.9 1113.5 L938.1 1111.5 L938.3 1109.5 L938.4 1107.5 L938.6 1105.5 L938.8 1103.6 L939.0 1101.6 L939.2 1099.6 L939.4 1097.6 L939.6 1095.6 L939.7 1093.6 L939.9 1091.6 L940.1 1089.6 L940.3 1087.6 L940.5 1085.6 L940.7 1083.6 L940.8 1081.6 L941.0 1079.7 L941.2 1077.7 L941.4 1075.7 L941.5 1073.7 L941.7 1071.7 L941.9 1069.7 L942.0 1067.7 L942.2 1065.7 L942.4 1063.7 L942.6 1061.7 L942.7 1059.7 L942.9 1057.7 L943.1 1055.7 L943.2 1053.7 L943.4 1051.7 L943.6 1049.7 L943.7 1047.7 L943.9 1045.8 L944.0 1043.8 L944.2 1041.8 L944.4 1039.8 L944.5 1037.8 L944.7 1035.8 L944.8 1033.8 L945.0 1031.8 L945.2 1029.8 L945.3 1027.8 L945.5 1025.8 L945.6 1023.8 L945.8 1021.8 L945.9 1019.8 L946.1 1017.8 L946.3 1015.8 L946.4 1013.8 L946.6 1011.8 L946.7 1009.8 L946.9 1007.8 L947.0 1005.8 L947.2 1003.8 L947.3 1001.8 L947.5 999.9 L947.6 997.9 L947.8 995.9 L947.9 993.9 L948.1 991.9 L948.2 989.9 L948.4 987.9 L948.5 985.9 L948.7 983.9 L948.8 981.9 L949.0 979.9 L949.1 977.9 L949.3 975.9 L949.4 973.9 L949.6 971.9 L949.7 969.9 L949.9 967.9 L950.0 965.9 L950.1 963.9 L950.3 961.9 L950.4 959.9 L950.6 957.9 L950.7 955.9 L950.9 953.9 L951.0 951.9 L951.2 949.9 L951.3 947.9 L951.5 945.9 L951.6 943.9 L951.7 941.9 L951.9 939.9 L952.0 938.0 L952.2 936.0 L952.3 934.0 L952.5 932.0 L952.6 930.0 L952.8 928.0 L952.9 926.0 L953.1 924.0 L953.2 922.0 L953.4 920.0 L953.5 918.0 L953.6 916.0 L953.8 914.0 L953.9 912.0 L954.1 910.0 L954.2 908.0 L954.4 906.0 L954.5 904.0 L954.7 902.0 L954.8 900.0 L955.0 898.0 L955.1 896.0 L955.3 894.0 L955.4 892.0 L955.6 890.1 L955.7 888.1 L955.9 886.1 L956.0 884.1 L956.2 882.1 L956.3 880.1 L956.5 878.1 L956.6 876.1 L956.8 874.1 L956.9 872.1 L957.1 870.1 L957.2 868.1 L957.4 866.1 L957.6 864.1 L957.7 862.1 L957.9 860.1 L958.0 858.1 L958.2 856.1 L958.3 854.2 L958.5 852.2 L958.7 850.2 L958.8 848.2 L959.0 846.2 L959.1 844.2 L959.3 842.2 L959.5 840.2 L959.6 838.2 L959.8 836.2 L960.0 834.2 L960.1 832.2 L960.3 830.2 L960.5 828.3 L960.6 826.3 L960.8 824.3 L961.0 822.3 L961.1 820.3 L961.3 818.3 L961.5 816.3 L961.7 814.3 L961.8 812.3 L962.0 810.3 L962.2 808.4 L962.4 806.4 L962.6 804.4 L962.7 802.4 L962.9 800.4 L963.1 798.4 L963.3 796.4 L963.5 794.4 L963.7 792.4 L963.9 790.5 L964.1 788.5 L964.3 786.5 L964.5 784.5 L964.7 782.5 L964.9 780.5 L965.1 778.5 L965.3 776.6 L965.5 774.6 L965.7 772.6 L965.9 770.6 L966.1 768.6 L966.3 766.6 L966.6 764.6 L966.8 762.7 L967.0 760.7 L967.2 758.7 L967.5 756.7 L967.7 754.7 L967.9 752.7 L968.1 750.8 L968.4 748.8 L968.6 746.8 L968.9 744.8 L969.1 742.8 L969.4 740.8 L969.6 738.9 L969.9 736.9 L970.1 734.9 L970.4 732.9 L970.6 730.9 L970.9 729.0 L971.1 727.0 L971.4 725.0 L971.7 723.0 L971.9 721.0 L972.2 719.1 L972.5 717.1 L972.8 715.1 L973.0 713.1 L973.3 711.2 L973.6 709.2 L973.9 707.2 L974.2 705.2 L974.5 703.2 L974.7 701.3 L975.0 699.3 L975.3 697.3 L975.6 695.3 L975.9 693.4 L976.2 691.4 L976.5 689.4 L976.9 687.5 L977.2 685.5 L977.5 683.5 L977.8 681.5 L978.1 679.6 L978.5 677.6 L978.8 675.6 L979.2 673.7 L979.5 671.7 L979.9 669.7 L980.3 667.8 L980.7 665.8 L981.1 663.8 L981.5 661.9 L981.9 659.9 L982.4 658.0 L982.8 656.0 L983.3 654.1 L983.8 652.1 L984.3 650.2 L984.8 648.2 L985.3 646.3 L985.8 644.3 L986.4 642.4 L987.0 640.5 L987.5 638.5 L988.2 636.6 L988.8 634.7 L989.4 632.8 L990.1 630.8 L990.8 628.9 L991.5 627.0 L992.3 625.1 L993.0 623.2 L993.8 621.3 L994.6 619.4 L995.4 617.5 L996.3 615.6 L997.2 613.7 L998.1 611.9 L999.1 610.1 L1000.0 608.3 L1001.1 606.5 L1002.1 604.8 L1003.2 603.1 L1004.3 601.5 L1005.5 599.9 L1006.7 598.3 L1008.0 596.9 L1009.3 595.4 L1010.6 594.0 L1012.0 592.7 L1013.5 591.5 L1015.0 590.3 L1016.5 589.1 L1018.1 588.1 L1019.7 587.0 L1021.3 586.1 L1023.0 585.2 L1024.7 584.3 L1026.5 583.5 L1028.3 582.7 L1030.1 582.0 L1031.9 581.3 L1033.7 580.6 L1035.6 580.0 L1037.5 579.4 L1039.4 578.9 L1041.3 578.4 L1043.3 577.9 L1045.2 577.4 L1047.2 577.0 L1049.1 576.6 L1051.1 576.3 L1053.1 575.9 L1055.1 575.6 L1057.1 575.3 L1059.1 575.0 L1061.0 574.7 L1063.0 574.5 L1065.0 574.2 L1067.0 574.0 L1069.0 573.8 L1071.0 573.6 L1073.0 573.4 L1075.0 573.3 L1077.0 573.1 L1079.0 573.0 L1081.0 572.9 L1083.0 572.8 L1085.0 572.7 L1087.0 572.6 L1089.0 572.6 L1091.0 572.5 L1093.0 572.5 L1095.0 572.4 L1097.0 572.4 L1099.0 572.4 L1101.0 572.4 L1103.0 572.4 L1105.0 572.4 L1107.0 572.4 L1109.0 572.5 L1111.0 572.5 L1113.1 572.5 L1115.1 572.6 L1117.1 572.6 L1119.1 572.7 L1121.1 572.7 L1123.1 572.8 L1125.1 572.9 L1127.1 572.9 L1129.1 573.0 L1131.1 573.1 L1133.1 573.1 L1135.2 573.2 L1137.2 573.3 L1139.2 573.4 L1141.2 573.4 L1143.2 573.5 L1145.2 573.6 L1147.2 573.7 L1149.2 573.7 L1151.2 573.8 L1153.2 573.9 L1155.2 573.9 L1157.2 574.0 L1159.2 574.1 L1161.3 574.1 L1163.3 574.2 L1165.3 574.3 L1167.3 574.3 L1169.3 574.4 L1171.3 574.4 L1173.3 574.5 L1175.3 574.6 L1177.3 574.6 L1179.3 574.7 L1181.3 574.8 L1183.3 574.8 L1185.3 574.9 L1187.3 574.9 L1189.3 575.0 L1191.3 575.0 L1193.3 575.1 L1195.3 575.2 L1197.3 575.2 L1199.3 575.3 L1201.3 575.3 L1203.3 575.4 L1205.3 575.4 L1207.3 575.5 L1209.3 575.5 L1211.3 575.6 L1213.3 575.6 L1215.3 575.7 L1217.3 575.8 L1219.3 575.8 L1221.3 575.9 L1223.3 575.9 L1225.3 576.0 L1227.4 576.0 L1229.4 576.1 L1231.4 576.1 L1233.4 576.2 L1235.4 576.2 L1237.4 576.3 L1239.4 576.3 L1241.4 576.4 L1243.3 576.4 L1245.3 576.5 L1247.3 576.5 L1249.3 576.6 L1251.3 576.6 L1253.3 576.7 L1255.3 576.7 L1257.3 576.8 L1259.3 576.8 L1261.3 576.9 L1263.3 576.9 L1265.3 577.0 L1267.3 577.0 L1269.3 577.1 L1271.3 577.1 L1273.3 577.2 L1275.3 577.2 L1277.3 577.3 L1279.3 577.3 L1281.3 577.4 L1283.3 577.4 L1285.3 577.5 L1287.3 577.5 L1289.3 577.6 L1291.3 577.6 L1293.3 577.7 L1295.3 577.7 L1297.3 577.8 L1299.3 577.8 L1301.3 577.9 L1303.3 577.9 L1305.3 578.0 L1307.3 578.0 L1309.3 578.1 L1311.3 578.1 L1313.3 578.2 L1315.3 578.2 L1317.3 578.3 L1319.3 578.4 L1321.3 578.4 L1323.3 578.5 L1325.3 578.5 L1327.2 578.6 L1329.2 578.6 L1331.2 578.7 L1333.2 578.7 L1335.2 578.8 L1337.2 578.9 L1339.2 578.9 L1341.2 579.0 L1343.2 579.0 L1345.2 579.1 L1347.2 579.2 L1349.2 579.2 L1351.2 579.3 L1353.2 579.3 L1355.2 579.4 L1357.2 579.5 L1359.2 579.5 L1361.2 579.6 L1363.2 579.7 L1365.2 579.7 L1367.2 579.8 L1369.2 579.8 L1371.2 579.9 L1373.2 580.0 L1375.2 580.0 L1377.2 580.1 L1379.1 580.2 L1381.1 580.2 L1383.1 580.3 L1385.1 580.4 L1387.1 580.4 L1389.1 580.5 L1391.1 580.6 L1393.1 580.6 L1395.1 580.7 L1397.1 580.8 L1399.1 580.8 L1401.1 580.9 L1403.1 581.0 L1405.1 581.0 L1407.1 581.1 L1409.1 581.2 L1411.1 581.2 L1413.1 581.3 L1415.1 581.4 L1417.1 581.4 L1419.1 581.5 L1421.1 581.6 L1423.1 581.7 L1425.1 581.7 L1427.1 581.8 L1429.1 581.9 L1431.1 581.9 L1433.1 582.0 L1435.1 582.1 L1437.1 582.1 L1439.1 582.2 L1441.1 582.3 L1443.1 582.4 L1445.1 582.4 L1447.0 582.5 L1449.0 582.6 L1451.0 582.6 L1453.0 582.7 L1455.0 582.8 L1457.0 582.8 L1459.0 582.9 L1461.0 583.0 L1463.0 583.1 L1465.0 583.1 L1467.0 583.2 L1469.0 583.3 L1471.0 583.3 L1473.0 583.4 L1475.0 583.5 L1477.0 583.6 L1479.0 583.6 L1481.0 583.7 L1483.0 583.8 L1485.0 583.8 L1487.0 583.9 L1489.0 584.0 L1491.0 584.1 L1493.0 584.1 L1495.0 584.2 L1497.0 584.3 L1499.0 584.3 L1501.0 584.4 L1503.0 584.5 L1505.1 584.6 L1507.1 584.6 L1509.1 584.7 L1511.1 584.8 L1513.1 584.8 L1515.1 584.9 L1517.1 585.0 L1519.1 585.1 L1521.1 585.1 L1523.1 585.2 L1525.1 585.3 L1527.1 585.3 L1529.1 585.4 L1531.1 585.5 L1533.1 585.5 L1535.1 585.6 L1537.1 585.7 L1537.5 585.7"/>
<path class="c" stroke-width="7.6" stroke="#FF6608" d="M138.5 1278.7 L1022.0 1278.7 L1024.1 1278.7 L1026.2 1278.6 L1028.2 1278.3 L1030.1 1277.7 L1032.0 1277.0 L1033.7 1276.1 L1035.4 1275.0 L1036.9 1273.8"/>
<path class="c" stroke-width="8.2" stroke="#FF6608" d="M1036.9 1273.8 L1038.3 1272.4 L1039.7 1271.0 L1040.9 1269.4 L1042.0 1267.8 L1043.0 1266.1 L1044.0 1264.3 L1044.9 1262.5 L1045.7 1260.7 L1046.4 1258.8 L1047.1 1256.9 L1047.7 1255.0 L1048.2 1253.1 L1048.8 1251.2 L1049.3 1249.2 L1049.7 1247.3 L1050.1 1245.3 L1050.5 1243.3 L1050.9 1241.4 L1051.3 1239.4 L1051.7 1237.4 L1052.0 1235.4 L1052.4 1233.4 L1052.7 1231.5 L1053.0 1229.5 L1053.4 1227.5 L1053.7 1225.5 L1054.0 1223.5 L1054.3 1221.6 L1054.6 1219.6 L1054.9 1217.6 L1055.2 1215.6 L1055.5 1213.6 L1055.8 1211.6 L1056.1 1209.7 L1056.4 1207.7 L1056.6 1205.7 L1056.9 1203.7 L1057.1 1201.7 L1057.4 1199.8 L1057.7 1197.8 L1057.9 1195.8 L1058.2 1193.8 L1058.4 1191.8 L1058.6 1189.8 L1058.9 1187.9 L1059.1 1185.9 L1059.3 1183.9 L1059.6 1181.9 L1059.8 1179.9 L1060.0 1178.0 L1060.2 1176.0 L1060.5 1174.0 L1060.7 1172.0 L1060.9 1170.0 L1061.1 1168.0 L1061.3 1166.1 L1061.6 1164.1 L1061.8 1162.1 L1062.0 1160.1 L1062.2 1158.1 L1062.4 1156.1 L1062.6 1154.2 L1062.8 1152.2 L1063.0 1150.2 L1063.3 1148.2 L1063.5 1146.2 L1063.7 1144.2 L1063.9 1142.3 L1064.1 1140.3 L1064.3 1138.3 L1064.5 1136.3 L1064.7 1134.3 L1064.9 1132.3 L1065.1 1130.3 L1065.3 1128.4 L1065.5 1126.4 L1065.7 1124.4 L1065.8 1122.4 L1066.0 1120.4 L1066.2 1118.4 L1066.4 1116.4 L1066.6 1114.5 L1066.8 1112.5 L1067.0 1110.5 L1067.2 1108.5 L1067.4 1106.5 L1067.5 1104.5 L1067.7 1102.5 L1067.9 1100.5 L1068.1 1098.6 L1068.3 1096.6 L1068.4 1094.6 L1068.6 1092.6 L1068.8 1090.6 L1069.0 1088.6 L1069.1 1086.6 L1069.3 1084.6 L1069.5 1082.6 L1069.7 1080.7 L1069.8 1078.7 L1070.0 1076.7 L1070.2 1074.7 L1070.3 1072.7 L1070.5 1070.7 L1070.7 1068.7 L1070.8 1066.7 L1071.0 1064.7 L1071.2 1062.7 L1071.3 1060.7 L1071.5 1058.8 L1071.7 1056.8 L1071.8 1054.8 L1072.0 1052.8 L1072.1 1050.8 L1072.3 1048.8 L1072.5 1046.8 L1072.6 1044.8 L1072.8 1042.8 L1072.9 1040.8 L1073.1 1038.8 L1073.2 1036.8 L1073.4 1034.8 L1073.6 1032.8 L1073.7 1030.9 L1073.9 1028.9 L1074.0 1026.9 L1074.2 1024.9 L1074.3 1022.9 L1074.5 1020.9 L1074.6 1018.9 L1074.8 1016.9 L1074.9 1014.9 L1075.1 1012.9 L1075.2 1010.9 L1075.4 1008.9 L1075.5 1006.9 L1075.7 1004.9 L1075.8 1002.9 L1076.0 1000.9 L1076.1 998.9 L1076.3 996.9 L1076.4 994.9 L1076.6 993.0 L1076.7 991.0 L1076.9 989.0 L1077.0 987.0 L1077.2 985.0 L1077.3 983.0 L1077.5 981.0 L1077.6 979.0 L1077.8 977.0 L1077.9 975.0 L1078.1 973.0 L1078.2 971.0 L1078.4 969.0 L1078.5 967.0 L1078.7 965.0 L1078.8 963.0 L1079.0 961.0 L1079.1 959.0 L1079.3 957.0 L1079.4 955.0 L1079.6 953.0 L1079.7 951.0 L1079.9 949.0 L1080.0 947.0 L1080.2 945.0 L1080.4 943.0 L1080.5 941.0 L1080.7 939.1 L1080.8 937.1 L1081.0 935.1 L1081.1 933.1 L1081.3 931.1 L1081.4 929.1 L1081.6 927.1 L1081.7 925.1 L1081.9 923.1 L1082.0 921.1 L1082.2 919.1 L1082.4 917.1 L1082.5 915.1 L1082.7 913.1 L1082.8 911.1 L1083.0 909.1 L1083.2 907.1 L1083.3 905.1 L1083.5 903.1 L1083.6 901.1 L1083.8 899.1 L1084.0 897.1 L1084.1 895.1 L1084.3 893.1 L1084.5 891.1 L1084.6 889.1 L1084.8 887.1 L1085.0 885.1 L1085.1 883.2 L1085.3 881.2 L1085.5 879.2 L1085.7 877.2 L1085.8 875.2 L1086.0 873.2 L1086.2 871.2 L1086.3 869.2 L1086.5 867.2 L1086.7 865.2 L1086.9 863.2 L1087.1 861.2 L1087.2 859.2 L1087.4 857.2 L1087.6 855.2 L1087.8 853.2 L1088.0 851.2 L1088.2 849.2 L1088.3 847.2 L1088.5 845.2 L1088.7 843.2 L1088.9 841.3 L1089.1 839.3 L1089.3 837.3 L1089.5 835.3 L1089.7 833.3 L1089.9 831.3 L1090.1 829.3 L1090.3 827.3 L1090.5 825.3 L1090.7 823.3 L1090.9 821.3 L1091.1 819.3 L1091.3 817.3 L1091.5 815.3 L1091.7 813.4 L1091.9 811.4 L1092.1 809.4 L1092.3 807.4 L1092.6 805.4 L1092.8 803.4 L1093.0 801.4 L1093.2 799.4 L1093.4 797.4 L1093.7 795.4 L1093.9 793.4 L1094.1 791.5 L1094.3 789.5 L1094.6 787.5 L1094.8 785.5 L1095.0 783.5 L1095.3 781.5 L1095.5 779.5 L1095.7 777.5 L1096.0 775.5 L1096.2 773.5 L1096.4 771.6 L1096.7 769.6 L1096.9 767.6 L1097.2 765.6 L1097.4 763.6 L1097.7 761.6 L1097.9 759.6 L1098.2 757.6 L1098.5 755.7 L1098.7 753.7 L1099.0 751.7 L1099.2 749.7 L1099.5 747.7 L1099.8 745.7 L1100.0 743.7 L1100.3 741.8 L1100.6 739.8 L1100.9 737.8 L1101.1 735.8 L1101.4 733.8 L1101.7 731.8 L1102.0 729.9 L1102.3 727.9 L1102.5 725.9 L1102.8 723.9 L1103.1 721.9 L1103.4 719.9 L1103.7 718.0 L1104.0 716.0 L1104.3 714.0 L1104.6 712.0 L1104.9 710.0 L1105.2 708.1 L1105.6 706.1 L1105.9 704.1 L1106.2 702.1 L1106.5 700.1 L1106.8 698.2 L1107.1 696.2 L1107.5 694.2 L1107.8 692.2 L1108.1 690.3 L1108.5 688.3 L1108.8 686.3 L1109.1 684.3 L1109.5 682.3 L1109.8 680.4 L1110.2 678.4 L1110.6 676.4 L1110.9 674.5 L1111.3 672.5 L1111.7 670.5 L1112.1 668.6 L1112.5 666.6 L1113.0 664.7 L1113.4 662.7 L1113.9 660.8 L1114.3 658.9 L1114.8 656.9 L1115.3 655.0 L1115.8 653.1 L1116.4 651.2 L1116.9 649.3 L1117.5 647.4 L1118.1 645.5 L1118.7 643.6 L1119.4 641.7 L1120.0 639.9 L1120.7 638.0 L1121.4 636.1 L1122.2 634.3 L1122.9 632.5 L1123.7 630.6 L1124.5 628.8 L1125.4 627.0 L1126.3 625.2 L1127.2 623.5 L1128.1 621.7 L1129.1 619.9 L1130.1 618.2 L1131.1 616.5 L1132.2 614.8 L1133.3 613.1 L1134.4 611.5 L1135.6 609.8 L1136.8 608.3 L1138.1 606.7 L1139.4 605.2 L1140.7 603.8 L1142.1 602.3 L1143.5 601.0 L1145.0 599.6 L1146.5 598.3 L1148.0 597.1 L1149.6 596.0 L1151.2 594.8 L1152.9 593.8 L1154.6 592.8 L1156.4 591.8 L1158.1 590.9 L1159.9 590.0 L1161.8 589.2 L1163.6 588.4 L1165.5 587.7 L1167.4 587.0 L1169.3 586.3 L1171.2 585.7 L1173.1 585.1 L1175.0 584.5 L1177.0 584.0 L1178.9 583.5 L1180.9 583.0 L1182.8 582.6 L1184.8 582.2 L1186.8 581.8 L1188.7 581.4 L1190.7 581.1 L1192.7 580.7 L1194.6 580.4 L1196.6 580.1 L1198.6 579.9 L1200.6 579.6 L1202.6 579.3 L1204.6 579.1 L1206.6 578.9 L1208.5 578.6 L1210.5 578.4 L1212.5 578.2 L1214.5 578.0 L1216.5 577.8 L1218.5 577.6 L1220.5 577.4 L1222.5 577.2 L1224.5 577.0 L1226.5 576.8 L1228.5 576.6 L1230.5 576.4 L1232.5 576.2 L1234.5 576.0 L1236.4 575.8 L1238.4 575.6 L1240.4 575.4 L1242.4 575.2 L1244.4 575.0 L1246.4 574.8 L1248.4 574.6 L1250.4 574.5 L1252.4 574.3 L1254.4 574.1 L1256.4 573.9 L1258.4 573.8 L1260.4 573.6 L1262.4 573.4 L1264.4 573.3 L1266.4 573.1 L1268.4 572.9 L1270.3 572.8 L1272.3 572.6 L1274.3 572.5 L1276.3 572.3 L1278.3 572.2 L1280.3 572.1 L1282.3 571.9 L1284.3 571.8 L1286.3 571.7 L1288.3 571.5 L1290.3 571.4 L1292.3 571.3 L1294.3 571.2 L1296.3 571.1 L1298.3 571.0 L1300.3 570.9 L1302.3 570.8 L1304.3 570.7 L1306.3 570.6 L1308.3 570.5 L1310.3 570.5 L1312.3 570.4 L1314.3 570.3 L1316.2 570.3 L1318.2 570.2 L1320.2 570.1 L1322.2 570.1 L1324.2 570.0 L1326.2 570.0 L1328.2 569.9 L1330.2 569.9 L1332.2 569.8 L1334.2 569.8 L1336.2 569.8 L1338.2 569.7 L1340.2 569.7 L1342.2 569.7 L1344.2 569.7 L1346.2 569.7 L1348.2 569.6 L1350.2 569.6 L1352.2 569.6 L1354.2 569.6 L1356.2 569.6 L1358.2 569.6 L1360.2 569.6 L1362.2 569.5 L1364.2 569.5 L1366.2 569.5 L1368.2 569.5 L1370.2 569.5 L1372.2 569.5 L1374.2 569.5 L1376.2 569.5 L1378.2 569.5 L1380.2 569.5 L1382.2 569.5 L1384.2 569.5 L1386.2 569.5 L1388.2 569.5 L1390.2 569.5 L1392.2 569.5 L1394.2 569.5 L1396.2 569.5 L1398.2 569.5 L1400.2 569.5 L1402.2 569.5 L1404.2 569.5 L1406.2 569.5 L1408.2 569.5 L1410.2 569.5 L1412.2 569.5 L1414.2 569.5 L1416.2 569.5 L1418.2 569.5 L1420.2 569.5 L1422.2 569.5 L1424.2 569.5 L1426.2 569.5 L1428.2 569.5 L1430.2 569.5 L1432.2 569.5 L1434.2 569.5 L1436.2 569.5 L1438.2 569.5 L1440.2 569.5 L1442.2 569.5 L1444.2 569.5 L1446.2 569.5 L1448.2 569.5 L1450.2 569.5 L1452.2 569.5 L1454.2 569.5 L1456.2 569.5 L1458.2 569.5 L1460.2 569.5 L1462.2 569.5 L1464.2 569.5 L1466.2 569.5 L1468.2 569.5 L1470.2 569.5 L1472.2 569.5 L1474.2 569.5 L1476.2 569.5 L1478.2 569.5 L1480.2 569.5 L1482.2 569.5 L1484.2 569.5 L1486.2 569.5 L1488.2 569.5 L1490.2 569.5 L1492.2 569.5 L1494.2 569.5 L1496.2 569.5 L1498.2 569.5 L1500.2 569.5 L1502.2 569.5 L1504.2 569.5 L1506.2 569.5 L1508.2 569.5 L1510.2 569.5 L1512.2 569.5 L1514.2 569.5 L1516.2 569.5 L1518.2 569.5 L1520.2 569.5 L1522.2 569.5 L1524.2 569.5 L1526.2 569.5 L1528.2 569.5 L1530.2 569.5 L1532.2 569.5 L1534.2 569.5 L1536.2 569.5 L1537.5 569.5"/>
<path class="c" stroke-width="7.6" stroke="#FF0000" d="M138.5 1278.7 L1040.0 1278.7 L1075.0 1279.2 L1098.0 1279.1 L1100.0 1278.8 L1102.1 1278.4 L1104.1 1278.1 L1106.1 1277.7 L1108.0 1277.3 L1109.9 1276.7 L1111.8 1276.2 L1113.7 1275.5"/>
<path class="c" stroke-width="8.2" stroke="#FF0000" d="M1113.7 1275.5 L1115.4 1274.7 L1117.2 1273.8 L1118.8 1272.7 L1120.4 1271.6 L1122.0 1270.3 L1123.4 1268.9 L1124.8 1267.4 L1126.0 1265.8 L1127.2 1264.1 L1128.3 1262.4 L1129.3 1260.6 L1130.1 1258.9 L1130.9 1257.0 L1131.6 1255.2 L1132.2 1253.3 L1132.8 1251.3 L1133.3 1249.4 L1133.7 1247.4 L1134.2 1245.5 L1134.5 1243.5 L1134.9 1241.5 L1135.2 1239.5 L1135.5 1237.5 L1135.8 1235.5 L1136.0 1233.5 L1136.3 1231.5 L1136.6 1229.5 L1136.8 1227.6 L1137.0 1225.6 L1137.3 1223.6 L1137.5 1221.6 L1137.7 1219.6 L1137.9 1217.6 L1138.1 1215.6 L1138.3 1213.6 L1138.5 1211.6 L1138.7 1209.7 L1138.8 1207.7 L1139.0 1205.7 L1139.2 1203.7 L1139.4 1201.7 L1139.6 1199.7 L1139.8 1197.7 L1140.0 1195.7 L1140.2 1193.8 L1140.4 1191.8 L1140.6 1189.8 L1140.8 1187.8 L1141.0 1185.8 L1141.2 1183.8 L1141.4 1181.8 L1141.6 1179.9 L1141.8 1177.9 L1142.1 1175.9 L1142.3 1173.9 L1142.5 1171.9 L1142.7 1169.9 L1143.0 1167.9 L1143.2 1166.0 L1143.4 1164.0 L1143.7 1162.0 L1143.9 1160.0 L1144.1 1158.0 L1144.4 1156.0 L1144.6 1154.0 L1144.8 1152.0 L1145.0 1150.1 L1145.3 1148.1 L1145.5 1146.1 L1145.7 1144.1 L1145.9 1142.1 L1146.2 1140.1 L1146.4 1138.1 L1146.6 1136.2 L1146.8 1134.2 L1147.0 1132.2 L1147.3 1130.2 L1147.5 1128.2 L1147.7 1126.2 L1147.9 1124.2 L1148.1 1122.2 L1148.3 1120.2 L1148.5 1118.3 L1148.7 1116.3 L1148.9 1114.3 L1149.1 1112.3 L1149.3 1110.3 L1149.5 1108.3 L1149.8 1106.3 L1150.0 1104.3 L1150.2 1102.3 L1150.4 1100.4 L1150.6 1098.4 L1150.8 1096.4 L1150.9 1094.4 L1151.1 1092.4 L1151.3 1090.4 L1151.5 1088.4 L1151.7 1086.4 L1151.9 1084.4 L1152.1 1082.4 L1152.3 1080.4 L1152.5 1078.5 L1152.7 1076.5 L1152.9 1074.5 L1153.1 1072.5 L1153.2 1070.5 L1153.4 1068.5 L1153.6 1066.5 L1153.8 1064.5 L1154.0 1062.5 L1154.2 1060.5 L1154.4 1058.5 L1154.5 1056.6 L1154.7 1054.6 L1154.9 1052.6 L1155.1 1050.6 L1155.3 1048.6 L1155.4 1046.6 L1155.6 1044.6 L1155.8 1042.6 L1156.0 1040.6 L1156.1 1038.6 L1156.3 1036.6 L1156.5 1034.6 L1156.7 1032.6 L1156.9 1030.7 L1157.0 1028.7 L1157.2 1026.7 L1157.4 1024.7 L1157.6 1022.7 L1157.7 1020.7 L1157.9 1018.7 L1158.1 1016.7 L1158.2 1014.7 L1158.4 1012.7 L1158.6 1010.7 L1158.8 1008.7 L1158.9 1006.7 L1159.1 1004.8 L1159.3 1002.8 L1159.4 1000.8 L1159.6 998.8 L1159.8 996.8 L1160.0 994.8 L1160.1 992.8 L1160.3 990.8 L1160.5 988.8 L1160.6 986.8 L1160.8 984.8 L1161.0 982.8 L1161.1 980.8 L1161.3 978.8 L1161.5 976.8 L1161.7 974.9 L1161.8 972.9 L1162.0 970.9 L1162.2 968.9 L1162.3 966.9 L1162.5 964.9 L1162.7 962.9 L1162.8 960.9 L1163.0 958.9 L1163.2 956.9 L1163.4 954.9 L1163.5 952.9 L1163.7 950.9 L1163.9 948.9 L1164.0 946.9 L1164.2 945.0 L1164.4 943.0 L1164.6 941.0 L1164.7 939.0 L1164.9 937.0 L1165.1 935.0 L1165.2 933.0 L1165.4 931.0 L1165.6 929.0 L1165.8 927.0 L1165.9 925.0 L1166.1 923.0 L1166.3 921.0 L1166.5 919.0 L1166.6 917.1 L1166.8 915.1 L1167.0 913.1 L1167.2 911.1 L1167.3 909.1 L1167.5 907.1 L1167.7 905.1 L1167.9 903.1 L1168.1 901.1 L1168.2 899.1 L1168.4 897.1 L1168.6 895.1 L1168.8 893.1 L1169.0 891.1 L1169.1 889.2 L1169.3 887.2 L1169.5 885.2 L1169.7 883.2 L1169.9 881.2 L1170.0 879.2 L1170.2 877.2 L1170.4 875.2 L1170.6 873.2 L1170.8 871.2 L1171.0 869.2 L1171.2 867.2 L1171.3 865.3 L1171.5 863.3 L1171.7 861.3 L1171.9 859.3 L1172.1 857.3 L1172.3 855.3 L1172.5 853.3 L1172.7 851.3 L1172.9 849.3 L1173.1 847.3 L1173.3 845.3 L1173.5 843.3 L1173.7 841.4 L1173.8 839.4 L1174.0 837.4 L1174.2 835.4 L1174.4 833.4 L1174.6 831.4 L1174.8 829.4 L1175.0 827.4 L1175.2 825.4 L1175.4 823.4 L1175.6 821.5 L1175.9 819.5 L1176.1 817.5 L1176.3 815.5 L1176.5 813.5 L1176.7 811.5 L1176.9 809.5 L1177.1 807.5 L1177.3 805.5 L1177.5 803.6 L1177.7 801.6 L1177.9 799.6 L1178.2 797.6 L1178.4 795.6 L1178.6 793.6 L1178.8 791.6 L1179.0 789.6 L1179.2 787.7 L1179.5 785.7 L1179.7 783.7 L1179.9 781.7 L1180.1 779.7 L1180.3 777.7 L1180.6 775.7 L1180.8 773.7 L1181.0 771.8 L1181.2 769.8 L1181.5 767.8 L1181.7 765.8 L1181.9 763.8 L1182.2 761.8 L1182.4 759.8 L1182.6 757.9 L1182.9 755.9 L1183.1 753.9 L1183.4 751.9 L1183.6 749.9 L1183.8 747.9 L1184.1 746.0 L1184.3 744.0 L1184.6 742.0 L1184.8 740.0 L1185.1 738.0 L1185.4 736.0 L1185.6 734.1 L1185.9 732.1 L1186.2 730.1 L1186.4 728.1 L1186.7 726.1 L1187.0 724.2 L1187.3 722.2 L1187.6 720.2 L1187.9 718.2 L1188.2 716.3 L1188.5 714.3 L1188.8 712.3 L1189.2 710.4 L1189.5 708.4 L1189.8 706.4 L1190.2 704.5 L1190.6 702.5 L1190.9 700.5 L1191.3 698.6 L1191.7 696.6 L1192.0 694.6 L1192.4 692.7 L1192.8 690.7 L1193.3 688.8 L1193.7 686.8 L1194.1 684.9 L1194.5 682.9 L1195.0 681.0 L1195.5 679.0 L1195.9 677.1 L1196.4 675.1 L1196.9 673.2 L1197.4 671.3 L1197.9 669.3 L1198.4 667.4 L1199.0 665.5 L1199.5 663.5 L1200.1 661.6 L1200.6 659.7 L1201.2 657.8 L1201.8 655.8 L1202.4 653.9 L1203.0 652.0 L1203.7 650.1 L1204.3 648.2 L1205.0 646.3 L1205.7 644.4 L1206.3 642.4 L1207.1 640.5 L1207.8 638.6 L1208.5 636.7 L1209.3 634.9 L1210.0 633.0 L1210.8 631.1 L1211.6 629.3 L1212.5 627.4 L1213.3 625.6 L1214.3 623.8 L1215.2 622.0 L1216.2 620.3 L1217.2 618.6 L1218.2 616.9 L1219.3 615.3 L1220.5 613.7 L1221.6 612.1 L1222.9 610.6 L1224.2 609.1 L1225.5 607.7 L1226.9 606.3 L1228.4 605.0 L1229.9 603.7 L1231.4 602.5 L1233.0 601.4 L1234.7 600.3 L1236.4 599.2 L1238.1 598.2 L1239.8 597.2 L1241.6 596.3 L1243.4 595.4 L1245.3 594.6 L1247.1 593.8 L1249.0 593.0 L1250.9 592.3 L1252.8 591.6 L1254.6 591.0 L1256.5 590.3 L1258.5 589.8 L1260.4 589.2 L1262.3 588.7 L1264.2 588.2 L1266.2 587.8 L1268.1 587.3 L1270.1 587.0 L1272.0 586.6 L1274.0 586.2 L1275.9 585.9 L1277.9 585.6 L1279.9 585.4 L1281.9 585.1 L1283.9 584.9 L1285.9 584.7 L1287.8 584.5 L1289.8 584.3 L1291.8 584.2 L1293.8 584.0 L1295.9 583.9 L1297.9 583.8 L1299.9 583.7 L1301.9 583.6 L1303.9 583.6 L1305.9 583.5 L1307.9 583.5 L1309.9 583.4 L1312.0 583.4 L1314.0 583.4 L1316.0 583.3 L1318.0 583.3 L1320.0 583.3 L1322.0 583.3 L1324.1 583.3 L1326.1 583.3 L1328.1 583.2 L1330.1 583.2 L1332.1 583.2 L1334.1 583.2 L1336.1 583.2 L1338.1 583.2 L1340.1 583.2 L1342.1 583.2 L1344.2 583.2 L1346.2 583.2 L1348.2 583.3 L1350.2 583.3 L1352.2 583.3 L1354.2 583.3 L1356.2 583.3 L1358.2 583.3 L1360.2 583.3 L1362.2 583.4 L1364.2 583.4 L1366.2 583.4 L1368.2 583.4 L1370.2 583.4 L1372.2 583.5 L1374.2 583.5 L1376.2 583.5 L1378.2 583.6 L1380.2 583.6 L1382.2 583.6 L1384.2 583.7 L1386.1 583.7 L1388.1 583.7 L1390.1 583.8 L1392.1 583.8 L1394.1 583.8 L1396.1 583.9 L1398.1 583.9 L1400.1 584.0 L1402.1 584.0 L1404.1 584.0 L1406.1 584.1 L1408.1 584.1 L1410.1 584.2 L1412.1 584.2 L1414.1 584.3 L1416.0 584.3 L1418.0 584.4 L1420.0 584.4 L1422.0 584.5 L1424.0 584.5 L1426.0 584.6 L1428.0 584.6 L1430.0 584.7 L1432.0 584.7 L1434.0 584.8 L1436.0 584.8 L1437.9 584.9 L1439.9 584.9 L1441.9 585.0 L1443.9 585.0 L1445.9 585.1 L1447.9 585.1 L1449.9 585.2 L1451.9 585.2 L1453.9 585.3 L1455.9 585.3 L1457.9 585.4 L1459.9 585.4 L1461.9 585.5 L1463.9 585.5 L1465.8 585.6 L1467.8 585.7 L1469.8 585.7 L1471.8 585.8 L1473.8 585.8 L1475.8 585.9 L1477.8 585.9 L1479.8 586.0 L1481.8 586.0 L1483.8 586.1 L1485.8 586.1 L1487.8 586.2 L1489.8 586.2 L1491.8 586.3 L1493.8 586.3 L1495.8 586.4 L1497.8 586.4 L1499.8 586.5 L1501.8 586.5 L1503.8 586.6 L1505.8 586.6 L1507.8 586.6 L1509.8 586.7 L1511.8 586.7 L1513.8 586.8 L1515.8 586.8 L1517.8 586.9 L1519.9 586.9 L1521.9 586.9 L1523.9 587.0 L1525.9 587.0 L1527.9 587.0 L1529.9 587.1 L1531.9 587.1 L1533.9 587.1 L1536.0 587.2 L1537.5 587.2"/>
</g>
<g id="phototube">
<path class="d" d="M138.5 1278.6 L173.1 1278.6"/>
<path class="d" d="M200.2 1264.0 L214.0 1255.2 L217.0 1248.0 L231.0 1237.2"/>
<path class="d" d="M246.4 1209.0 L253.6 1195.0 L262.2 1175.4"/>
<path class="d" d="M275.1 1147.2 L286.6 1112.2"/>
<path class="d" d="M293.2 1084.6 L304.7 1050.1"/>
<path class="d" d="M310.5 1022.2 L319.7 987.8"/>
<path class="d" d="M327.7 959.0 L336.9 926.0"/>
<path class="d" d="M342.8 898.6 L346.6 879.6 L353.3 862.6"/>
<path class="d" d="M361.8 835.8 L371.5 800.6"/>
<path class="d" d="M381.7 774.1 L396.8 738.5"/>
<path class="d" d="M409.1 709.8 L428.2 675.6"/>
<path class="d" d="M444.6 648.3 L466.5 614.1"/>
<path class="d" d="M482.9 585.3 L493.9 570.3 L510.3 552.5"/>
<path class="d" d="M534.7 526.5 L549.8 508.7 L568.9 507.4"/>
<path class="d" d="M596.3 506.0 L611.3 505.2 L630.5 510.1"/>
<path class="d" d="M658.4 516.9 L691.5 547.6"/>
<path class="d" d="M718.0 571.7 L741.3 607.2"/>
<path class="d" d="M757.7 634.6 L784.2 668.8"/>
<path class="d" d="M809.7 689.3 L816.5 692.0 L841.7 720.8"/>
<path class="d" d="M862.5 748.0 L870.5 757.0 L877.0 770.0 L882.1 783.2"/>
<path class="d" d="M895.0 810.2 L909.8 846.3"/>
<path class="d" d="M920.4 872.4 L936.5 908.7"/>
<path class="d" d="M946.7 933.9 L954.9 951.4 L966.8 969.8"/>
<path class="d" d="M985.7 996.5 L1010.3 1032.4"/>
<path class="d" d="M1027.8 1059.5 L1034.4 1068.7 L1058.6 1092.8"/>
<path class="d" d="M1081.2 1120.0 L1113.4 1152.9"/>
<path class="d" d="M1139.1 1176.9 L1174.4 1204.6"/>
<path class="d" d="M1201.7 1224.0 L1236.1 1243.9"/>
<path class="d" d="M1263.6 1254.4 L1298.6 1264.9"/>
<path class="d" d="M1325.5 1269.9 L1361.0 1274.1"/>
<path class="d" d="M1387.2 1277.8 L1423.4 1278.3"/>
<path class="d" d="M1449.6 1278.3 L1485.8 1278.3"/>
<path class="d" d="M1511.5 1278.3 L1538.3 1278.3"/>
</g>
<g id="axes" class="ax">
<rect x="138.2" y="117.8" width="1399.3" height="1160.8"/>
<path d="M371.4 1278.6 v-23.8 M371.4 117.8 v23.8 M604.6 1278.6 v-23.8 M604.6 117.8 v23.8 M837.8 1278.6 v-23.8 M837.8 117.8 v23.8 M1071.1 1278.6 v-23.8 M1071.1 117.8 v23.8 M1304.3 1278.6 v-23.8 M1304.3 117.8 v23.8 M138.2 891.7 h23.8 M1537.5 891.7 h-23.8 M138.2 504.7 h23.8 M1537.5 504.7 h-23.8"/>
</g>
<g id="labels" class="tick">
<text x="137.8" y="1357.5" text-anchor="middle">200</text>
<text x="371.1" y="1357.5" text-anchor="middle">300</text>
<text x="604.4" y="1357.5" text-anchor="middle">400</text>
<text x="837.7" y="1357.5" text-anchor="middle">500</text>
<text x="1071.1" y="1357.5" text-anchor="middle">600</text>
<text x="1304.4" y="1357.5" text-anchor="middle">700</text>
<text x="1537.7" y="1357.5" text-anchor="middle">800</text>
<text x="103.4" y="1294.1" text-anchor="end" style="letter-spacing:0.0px">0</text>
<text x="101.9" y="907.2" text-anchor="end" style="letter-spacing:-0.8px">0.5</text>
<text x="102.3" y="520.2" text-anchor="end" style="letter-spacing:0.0px">1</text>
<text x="101.9" y="133.3" text-anchor="end" style="letter-spacing:-0.8px">1.5</text>
<text x="807.4" y="1421.3" text-anchor="middle" style="font-size:57px;letter-spacing:-0.05px">wavelength (nm)</text>
</g>
<g id="legend">
<rect x="190.7" y="25.1" width="610.2" height="367.8" fill="#fff" stroke="#000" stroke-width="4"/>
<line x1="227.4" y1="75.3" x2="359.6" y2="75.3" stroke="#B010D8" stroke-width="7.5"/>
<text class="leg" transform="translate(374.6 93.3) scale(1 1.02)" fill="#B010D8">455</text>
<line x1="227.4" y1="129.8" x2="359.6" y2="129.8" stroke="#0000D8" stroke-width="7.5"/>
<text class="leg" transform="translate(374.6 147.8) scale(1 1.02)" fill="#0000D8">500</text>
<line x1="227.4" y1="184.3" x2="359.6" y2="184.3" stroke="#008010" stroke-width="7.5"/>
<text class="leg" transform="translate(374.6 202.3) scale(1 1.02)" fill="#008010">550</text>
<line x1="227.4" y1="238.8" x2="359.6" y2="238.8" stroke="#FF6608" stroke-width="7.5"/>
<text class="leg" transform="translate(374.6 256.8) scale(1 1.02)" fill="#FF6608">600</text>
<line x1="227.4" y1="293.3" x2="359.6" y2="293.3" stroke="#FF0000" stroke-width="7.5"/>
<text class="leg" transform="translate(374.6 311.3) scale(1 1.02)" fill="#FF0000">645</text>
<path d="M227.4 347.8 h35.2 M289.6 347.8 h35.2 M351.9 347.8 h7.8" stroke="#000" stroke-width="10" fill="none"/>
<text class="leg" x="375.1" y="365.5" fill="#000" style="letter-spacing:-0.18px">phototube efficency</text>
</g>
</svg>
</body></html>
